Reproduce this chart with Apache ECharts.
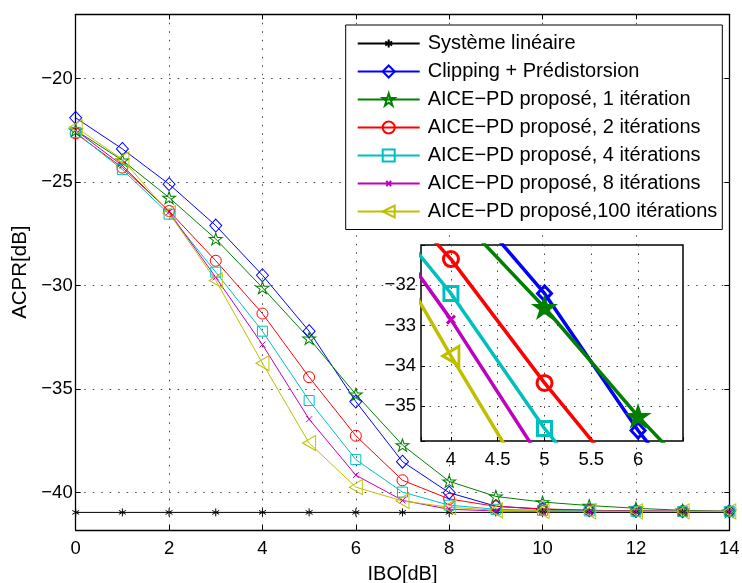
<!DOCTYPE html>
<html><head><meta charset="utf-8">
<script src="https://cdn.jsdelivr.net/npm/echarts@6/dist/echarts.min.js"></script>
<style>html,body{margin:0;padding:0;background:#fff}#c{width:742px;height:583px}</style>
</head><body><div id="c"></div>
<script>
// ---- data ----
const ibo = [0,1,2,3,4,5,6,7,8,9,10,11,12,13,14];
const lineaire   = [-40.95,-40.95,-40.95,-40.95,-40.95,-40.95,-40.95,-40.95,-40.95,-40.95,-40.95,-40.95,-40.95,-40.95,-40.95];
const clipping   = [-21.9,-23.4,-25.1,-27.1,-29.5,-32.2,-35.6,-38.5,-40.0,-40.65,-40.8,-40.85,-40.88,-40.9,-40.9];
const iter1      = [-22.5,-23.95,-25.75,-27.75,-30.1,-32.55,-35.25,-37.7,-39.45,-40.18,-40.45,-40.62,-40.75,-40.85,-40.9];
const iter2      = [-22.65,-24.3,-26.4,-28.8,-31.35,-34.42,-37.25,-39.4,-40.3,-40.66,-40.78,-40.85,-40.88,-40.9,-40.9];
const iter4      = [-22.6,-24.4,-26.55,-29.35,-32.2,-35.55,-38.4,-39.97,-40.6,-40.8,-40.85,-40.88,-40.9,-40.9,-40.9];
const iter8      = [-22.5,-24.2,-26.45,-29.6,-32.85,-36.45,-39.15,-40.37,-40.8,-40.88,-40.9,-40.9,-40.9,-40.9,-40.9];
const iter100    = [-22.35,-23.9,-26.5,-29.75,-33.75,-37.6,-39.73,-40.4,-40.7,-40.85,-40.88,-40.9,-40.9,-40.9,-40.9];
const names = ['Système linéaire','Clipping + Prédistorsion','AICE\u2212PD proposé, 1 itération','AICE\u2212PD proposé, 2 itérations','AICE\u2212PD proposé, 4 itérations','AICE\u2212PD proposé, 8 itérations','AICE\u2212PD proposé,100 itérations'];
const xTicks = [0,2,4,6,8,10,12,14];
const yTicks = [-20,-25,-30,-35,-40];
const insetXTicks = [4,4.5,5,5.5,6];
const insetYTicks = [-32,-33,-34,-35];

// ---- styles ----
const FONT = 'Liberation Sans, Arial, Helvetica, sans-serif';
const colors = ['#000000','#0000ff','#008000','#ff0000','#00bfbf','#bf00bf','#bfbf00'];
const STAR = 'path://M0,-100L22.45,-30.9L95.1,-30.9L36.33,11.8L58.8,80.9L0,38.2L-58.8,80.9L-36.33,11.8L-95.1,-30.9L-22.45,-30.9Z';
const AST = 'path://M-15,-15M15,15M0,-10L0,10M-8.66,-5L8.66,5M-8.66,5L8.66,-5';
const XMK = 'path://M-24,-24M24,24M-10,-10L10,10M-10,10L10,-10';
const LTRI = 'path://M-100,0L100,-100L100,100Z';
const symbols = [AST,'diamond',STAR,'circle','rect',XMK,LTRI];
const sizes = [12,[12,13],[13,12],11,10,14.4,[13,15]];
const insetSizes = [12,[14,15],[18,17],15,14,19,[16,19]];
const datasets = [lineaire,clipping,iter1,iter2,iter4,iter8,iter100];

const pairs = arr => ibo.map((x,i)=>[x,arr[i]]);
const minus = v => String(v).replace('-', '\u2212');

const series = [];
datasets.forEach((d,k)=>{
  series.push({
    type:'line', name:names[k], data:pairs(d), xAxisIndex:0, yAxisIndex:0,
    symbol:symbols[k], symbolSize:sizes[k], z:2,
    lineStyle:{color:colors[k], width:1},
    itemStyle:{color:'transparent', borderColor:colors[k], borderWidth:1},
    emphasis:{disabled:true}, animation:false
  });
});
datasets.forEach((d,k)=>{
  if(k===0) return;
  series.push({
    type:'line', name:names[k] + ' (zoom)', data:pairs(d), xAxisIndex:2, yAxisIndex:2,
    symbol:symbols[k], symbolSize:insetSizes[k], z:5, clip:true,
    lineStyle:{color:colors[k], width:3.5},
    itemStyle:{color: k===2 ? colors[k] : 'transparent', borderColor:colors[k], borderWidth:3},
    emphasis:{disabled:true}, animation:false
  });
});

const dotted = {show:true, lineStyle:{color:'#444', width:1, type:[1.5,7]}};
const tickIn = {show:true, inside:true, length:5, lineStyle:{color:'#000'}};
const lbl = {color:'#000', fontSize:18.5, fontFamily:FONT};

const option = {
  animation:false,
  backgroundColor:'#fff',
  grid:[
    {left:75.7, right:12.7, top:14.3, bottom:53, containLabel:false, outerBoundsMode:'none', z:0},
    {left:421, top:245, width:262, height:196, show:true, backgroundColor:'#fff', borderColor:'#000', borderWidth:1.5, containLabel:false, outerBoundsMode:'none', z:3}
  ],
  xAxis:[
    {type:'value', gridIndex:0, min:0, max:14, interval:2, position:'bottom',
     name:'IBO[dB]', nameLocation:'middle', nameGap:34, nameTextStyle:{color:'#000', fontSize:20, fontFamily:FONT},
     axisLine:{show:true, onZero:false, lineStyle:{color:'#000', width:1.3}}, axisTick:tickIn,
     axisLabel:Object.assign({margin:9, formatter:v=>xTicks.includes(v)?String(v):''}, lbl), splitLine:dotted},
    {type:'value', gridIndex:0, min:0, max:14, interval:2, position:'top',
     axisLine:{show:true, onZero:false, lineStyle:{color:'#000', width:1.3}}, axisTick:tickIn,
     axisLabel:{show:false}, splitLine:{show:false}},
    {type:'value', gridIndex:1, min:3.68, max:6.48, position:'bottom', z:4,
     axisLine:{show:false, onZero:false}, axisTick:{show:true, inside:true, length:4, lineStyle:{color:'#000'}},
     axisLabel:Object.assign({margin:9, formatter:v=>insetXTicks.some(t=>Math.abs(t-v)<1e-6)?String(v):''}, lbl),
     splitLine:dotted}
  ],
  yAxis:[
    {type:'value', gridIndex:0, min:-41.8, max:-16.9, position:'left',
     name:'ACPR[dB]', nameLocation:'middle', nameGap:37, nameTextStyle:{color:'#000', fontSize:20.5, fontFamily:FONT},
     axisLine:{show:true, onZero:false, lineStyle:{color:'#000', width:1.3}}, axisTick:tickIn,
     axisLabel:Object.assign({margin:3, formatter:v=>yTicks.some(t=>Math.abs(t-v)<1e-6)?minus(v):''}, lbl), splitLine:dotted},
    {type:'value', gridIndex:0, min:-41.8, max:-16.9, position:'right',
     axisLine:{show:true, onZero:false, lineStyle:{color:'#000', width:1.3}}, axisTick:tickIn,
     axisLabel:{show:false}, splitLine:{show:false}},
    {type:'value', gridIndex:1, min:-35.86, max:-31.0, position:'left', z:4,
     axisLine:{show:false, onZero:false}, axisTick:{show:true, inside:true, length:4, lineStyle:{color:'#000'}},
     axisLabel:Object.assign({margin:5, formatter:v=>insetYTicks.some(t=>Math.abs(t-v)<1e-6)?minus(v):''}, lbl),
     splitLine:dotted}
  ],
  legend:{
    data:names, orient:'vertical', left:345.7, top:25,
    itemWidth:62, itemHeight:15, itemGap:8,
    padding:[8.5,5,8,11],
    borderColor:'#000', borderWidth:1, backgroundColor:'#fff',
    textStyle:{color:'#000', fontSize:20, fontFamily:FONT, lineHeight:20, padding:[0,0,0,3]},
    selectedMode:false, z:6
  },
  series:series
};
const chart = echarts.init(document.getElementById('c'), null, {renderer:'canvas'});
chart.setOption(option);
</script>
</body></html>
